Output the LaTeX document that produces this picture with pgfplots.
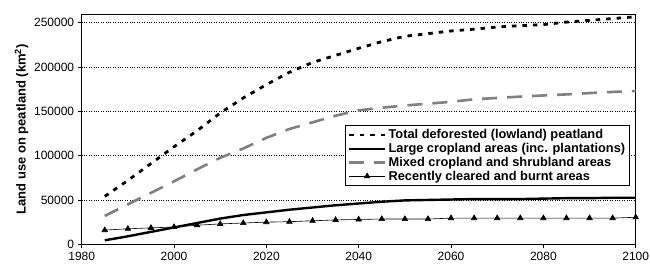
\documentclass[border=0pt]{standalone}
\usepackage{fontspec}
\setmainfont{Liberation Sans}
\usepackage{pgfplots}
\pgfplotsset{compat=1.18}
\definecolor{midgray}{RGB}{128,128,128}
\begin{document}
\begin{tikzpicture}
\begin{axis}[
  scale only axis,
  width=554pt, height=230pt,
  xmin=1980, xmax=2100, ymin=0, ymax=259300,
  xtick={1980,2000,...,2100},
  ytick={0,50000,...,250000},
  scaled ticks=false,
  /pgf/number format/fixed,
  /pgf/number format/precision=0,
  /pgf/number format/1000 sep={},
  /pgf/number format/assume math mode=true,
  tick label style={font=\fontsize{12}{14}\selectfont},
  tick align=outside,
  xtick pos=bottom, ytick pos=left,
  major tick length=4pt,
  tick style={black, line width=0.6pt},
  axis line style={black, line width=1pt},
  ymajorgrids,
  grid style={black, dotted, line width=0.6pt},
  ylabel={\bfseries Land use on peatland (km\textsuperscript{2})},
  ylabel style={font=\fontsize{13}{15}\selectfont, yshift=-1pt},
  legend style={at={(0.989,0.518)}, anchor=north east, draw=black, line width=0.8pt,
    font=\fontsize{12.8}{14}\selectfont\bfseries, row sep=-1pt, inner sep=2pt},
  legend cell align=left,
  legend image code/.code={\draw[#1, mark repeat=2, mark phase=2] plot coordinates {(0pt,0pt)(18pt,0pt)(36pt,0pt)};},
  clip=false,
]
\addplot[black, line width=2.8pt, dash pattern=on 4.5pt off 6pt] coordinates {
(1985,54000)(1990,72000)(1995,91000)(2000,110000)(2005,128000)(2010,148000)
(2015,165000)(2020,180000)(2025,194000)(2030,205000)(2035,213000)(2040,221000)
(2045,228500)(2050,234500)(2055,237500)(2060,240500)(2065,242500)(2070,245000)
(2075,246500)(2080,247700)(2085,250500)(2090,252500)(2095,254500)(2100,256500)};
\addlegendentry{Total deforested (lowland) peatland}
\addplot[black, line width=2.4pt] coordinates {
(1985,4500)(1990,9000)(1995,14000)(2000,19000)(2005,24000)(2010,29000)
(2015,33000)(2020,36000)(2025,39000)(2030,41500)(2035,44000)(2040,46000)
(2045,48000)(2050,49500)(2055,50000)(2060,50500)(2065,51000)(2070,51000)
(2075,51000)(2080,51500)(2085,52000)(2090,52000)(2095,52500)(2100,52500)};
\addlegendentry{Large cropland areas (inc. plantations)}
\addplot[midgray, line width=2.6pt, dash pattern=on 15pt off 10pt] coordinates {
(1985,32000)(1990,45000)(1995,58000)(2000,71000)(2005,84500)(2010,97500)
(2015,108000)(2020,120000)(2025,130000)(2030,137500)(2035,145000)(2040,151000)
(2045,154000)(2050,156500)(2055,158500)(2060,160600)(2065,163500)(2070,165000)
(2075,166500)(2080,167800)(2085,169000)(2090,170500)(2095,171800)(2100,172800)};
\addlegendentry{Mixed cropland and shrubland areas}
\addplot[black, line width=0.6pt, mark=triangle*, mark size=3.2pt] coordinates {
(1985,16000)(1990,17500)(1995,18500)(2000,19500)(2005,21500)(2010,23000)
(2015,24000)(2020,25000)(2025,25500)(2030,26500)(2035,27500)(2040,28000)
(2045,28500)(2050,28500)(2055,28500)(2060,29500)(2065,29500)(2070,29500)
(2075,29500)(2080,29500)(2085,29500)(2090,29500)(2095,29500)(2100,30500)};
\addlegendentry{Recently cleared and burnt areas}
\end{axis}
\pgfresetboundingbox
\path (-81.7pt,-20.7pt) rectangle (568.3pt,244.3pt);
\end{tikzpicture}
\end{document}
